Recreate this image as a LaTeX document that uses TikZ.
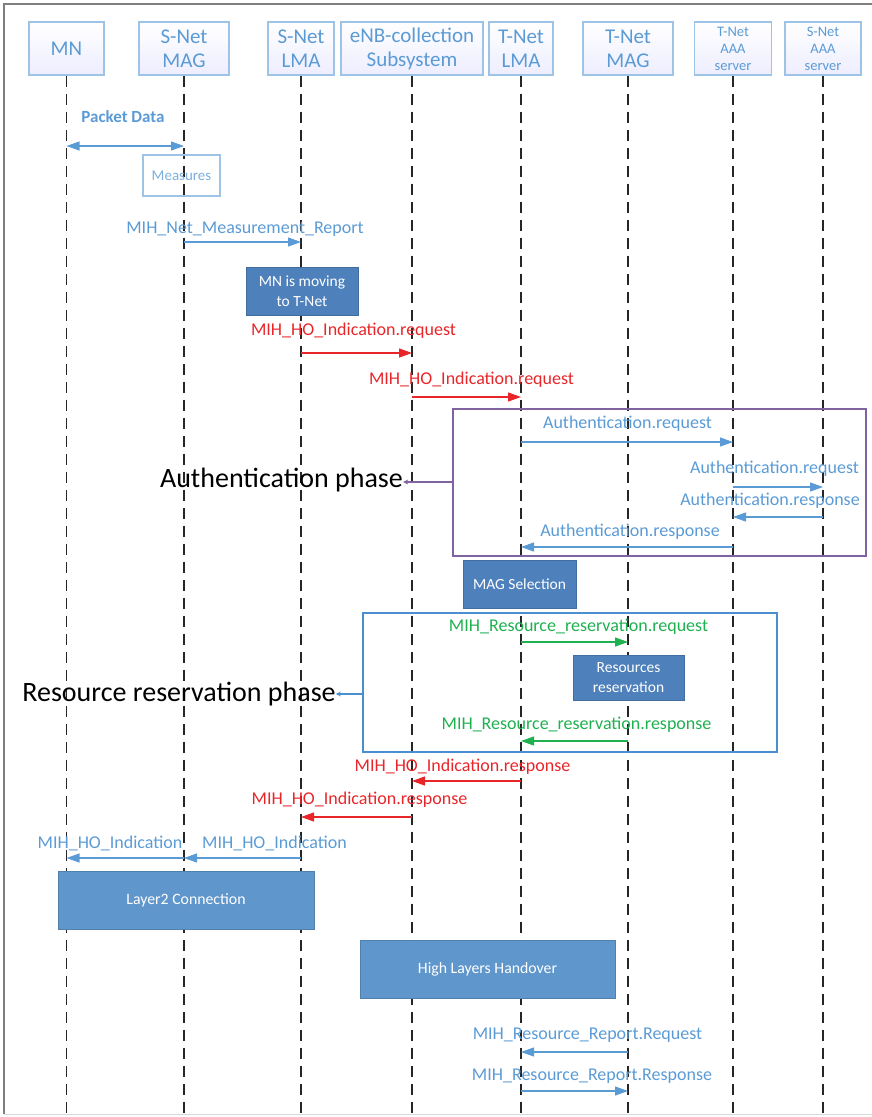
\documentclass[tikz,border=0pt]{standalone}
\usepackage{fontspec}
\setmainfont{Carlito}
\usetikzlibrary{arrows.meta}
\definecolor{lblue}{HTML}{5B9BD5}
\definecolor{hdrborder}{HTML}{9DC3E6}
\definecolor{mred}{HTML}{E8262A}
\definecolor{mgreen}{HTML}{1FB050}
\definecolor{mpurple}{HTML}{8064A2}
\definecolor{boxblue}{HTML}{4E80BB}
\definecolor{boxbluelt}{HTML}{5F96CC}
\definecolor{framegray}{HTML}{7F7F7F}
\definecolor{rrblue}{HTML}{4A90D0}
\tikzset{
  hdr/.style={draw=hdrborder, line width=1.2pt, top color=white, bottom color=blue!7!white,
    text=lblue, align=center, minimum height=53pt, inner sep=0pt,
    font=\fontsize{21}{24}\selectfont},
  hdrsmall/.style={hdr, font=\fontsize{14.5}{17}\selectfont},
  life/.style={line width=1.4pt, black!85, dash pattern=on 11pt off 7pt},
  msg/.style={line width=1.2pt, -{Triangle[length=13pt,width=9pt]}},
  lbl/.style={inner sep=0pt, font=\fontsize{18}{20}\selectfont},
  actbox/.style={fill=boxblue, draw=boxblue!85!black, line width=0.4pt, text=white,
    align=center, inner sep=0pt, font=\fontsize{15.5}{20}\selectfont},
  bigbox/.style={actbox, fill=boxbluelt, draw=boxbluelt!85!black, font=\fontsize{15.8}{20}\selectfont},
  phase/.style={inner sep=0pt, font=\fontsize{28}{31}\selectfont, text=black},
}
\begin{document}
\begin{tikzpicture}[x=1pt,y=-1pt]
\useasboundingbox (0,0) rectangle (872,1117);
% frame
\draw[framegray, line width=2pt] (4,1114) -- (4,4) -- (872,4);
\draw[black!15, line width=1pt] (4,1114) -- (872,1114);

% headers
\node[hdr, minimum width=75pt] (mn) at (66.5,48.5) {MN};
\node[hdr, minimum width=90pt] (smag) at (184,48.5) {S-Net\\MAG};
\node[hdr, minimum width=66pt] (slma) at (301,48.5) {S-Net\\LMA};
\node[hdr, minimum width=142pt] (enb) at (412,48.5) {eNB-collection\\Subsystem};
\node[hdr, minimum width=64pt] (tlma) at (521,48.5) {T-Net\\LMA};
\node[hdr, minimum width=90pt] (tmag) at (628,48.5) {T-Net\\MAG};
\node[hdrsmall, minimum width=77pt] (taaa) at (733,48.5) {T-Net\\AAA\\server};
\node[hdrsmall, minimum width=76pt] (saaa) at (823,48.5) {S-Net\\AAA\\server};

% lifelines
\foreach \n in {mn,smag,slma,enb,tlma,tmag,taaa,saaa}{
  \coordinate (\n-end) at (\n.south |- 0,1113);
  \draw[life] (\n.south) -- (\n-end);
}

% Packet data
\node[lbl, text=lblue, font=\bfseries\fontsize{17}{20}\selectfont] (pd) at (123,117) {Packet Data};
\draw[msg, lblue, {Triangle[length=13pt,width=9pt]}-{Triangle[length=13pt,width=9pt]}] (mn.south |- 0,146) -- (smag.south |- 0,146);

% Measures
\node[draw=hdrborder, line width=1.2pt, minimum width=77pt, minimum height=41pt, inner sep=0pt,
  text=lblue!80, font=\fontsize{15}{18}\selectfont] (meas) at (181.5,175.5) {Measures};

\node[lbl, text=lblue] (l1) at (245,229) {MIH\_Net\_Measurement\_Report};
\draw[msg, lblue] (smag.south |- 0,242) -- (slma.south |- 0,242);

\node[actbox, minimum width=112pt, minimum height=48pt] (move) at (302,291) {MN is moving\\to T-Net};

% red requests
\node[lbl, text=mred] (l2) at (353.5,331) {MIH\_HO\_Indication.request};
\draw[msg, mred] (slma.south |- 0,353) -- (enb.south |- 0,353);
\node[lbl, text=mred] (l3) at (471.5,380) {MIH\_HO\_Indication.request};
\draw[msg, mred] (enb.south |- 0,397) -- (tlma.south |- 0,397);

% Authentication phase
\draw[mpurple, line width=1.4pt] (453,409) rectangle (866,556);
\coordinate (authL) at (453,482);
\node[phase] (authlbl) at (281.5,480) {Authentication phase};
\draw[mpurple, line width=1.4pt, -{Stealth[length=5pt,width=5pt]}] (authL) -- (authlbl.east |- authL);

\node[lbl, text=lblue] (a1) at (627.5,424) {Authentication.request};
\draw[msg, lblue] (tlma.south |- 0,442) -- (taaa.south |- 0,442);
\node[lbl, text=lblue] (a2) at (774.5,469) {Authentication.request};
\draw[msg, lblue] (taaa.south |- 0,487) -- (saaa.south |- 0,487);
\node[lbl, text=lblue] (a3) at (770,501) {Authentication.response};
\draw[msg, lblue] (saaa.south |- 0,517) -- (taaa.south |- 0,517);
\node[lbl, text=lblue] (a4) at (630,532) {Authentication.response};
\draw[msg, lblue] (taaa.south |- 0,547) -- (tlma.south |- 0,547);

\node[actbox, minimum width=113pt, minimum height=48pt] (magsel) at (519.5,584) {MAG Selection};

% Resource reservation phase
\draw[rrblue, line width=1.4pt] (363,613) rectangle (777,752);
\coordinate (rrL) at (363,694);
\node[phase] (rrlbl) at (179,694) {Resource reservation phase};
\draw[rrblue, line width=1.4pt, -{Stealth[length=5pt,width=5pt]}] (rrL) -- (rrlbl.east |- rrL);

\node[lbl, text=mgreen] (g1) at (578.5,627) {MIH\_Resource\_reservation.request};
\draw[msg, mgreen] (tlma.south |- 0,642) -- (tmag.south |- 0,642);
\node[actbox, minimum width=111pt, minimum height=45pt] (resres) at (628.5,677.5) {Resources\\reservation};
\node[lbl, text=mgreen] (g2) at (576.5,725) {MIH\_Resource\_reservation.response};
\draw[msg, mgreen] (tmag.south |- 0,741) -- (tlma.south |- 0,741);

% red responses
\node[lbl, text=mred] (r1) at (462.5,767) {MIH\_HO\_Indication.response};
\draw[msg, mred] (tlma.south |- 0,781) -- (enb.south |- 0,781);
\node[lbl, text=mred] (r2) at (359.5,800) {MIH\_HO\_Indication.response};
\draw[msg, mred] (enb.south |- 0,817) -- (slma.south |- 0,817);

% MIH_HO_Indication
\node[lbl, text=lblue] (h1) at (110,843) {MIH\_HO\_Indication};
\draw[msg, lblue] (smag.south |- 0,858) -- (mn.south |- 0,858);
\node[lbl, text=lblue] (h2) at (274.5,843) {MIH\_HO\_Indication};
\draw[msg, lblue] (slma.south |- 0,858) -- (smag.south |- 0,858);

\node[bigbox, minimum width=256pt, minimum height=58pt] (l2c) at (186,900) {Layer2 Connection};
\node[bigbox, minimum width=255pt, minimum height=58pt] (hlh) at (487.5,969) {High Layers Handover};

% resource report
\node[lbl, text=lblue] (rp1) at (587.5,1035) {MIH\_Resource\_Report.Request};
\draw[msg, lblue] (tmag.south |- 0,1052) -- (tlma.south |- 0,1052);
\node[lbl, text=lblue] (rp2) at (592,1076) {MIH\_Resource\_Report.Response};
\draw[msg, lblue] (tlma.south |- 0,1091) -- (tmag.south |- 0,1091);
\end{tikzpicture}
\end{document}
